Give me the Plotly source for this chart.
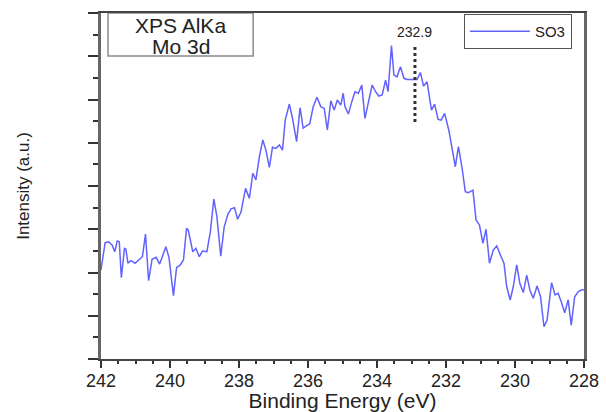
import plotly.graph_objects as go

# ---- data ----
energy_ev = [242.00, 241.88, 241.78, 241.68, 241.60, 241.53, 241.47, 241.41, 241.32, 241.28,
             241.22, 241.14, 241.08, 241.01, 240.91, 240.80, 240.71, 240.62, 240.52, 240.40,
             240.30, 240.20, 240.12, 240.03, 239.90, 239.81, 239.70, 239.61, 239.52, 239.47,
             239.34, 239.25, 239.15, 239.06, 238.93, 238.83, 238.73, 238.64, 238.53, 238.43,
             238.32, 238.23, 238.13, 238.04, 237.94, 237.81, 237.70, 237.60, 237.51, 237.41,
             237.31, 237.22, 237.12, 237.03, 236.93, 236.83, 236.74, 236.66, 236.54, 236.45,
             236.33, 236.23, 236.14, 236.04, 235.95, 235.85, 235.74, 235.63, 235.53, 235.44,
             235.34, 235.24, 235.15, 235.05, 234.98, 234.93, 234.83, 234.73, 234.64, 234.54,
             234.44, 234.35, 234.23, 234.14, 234.04, 233.95, 233.85, 233.75, 233.68, 233.58,
             233.51, 233.42, 233.32, 233.22, 233.13, 233.03, 232.93, 232.84, 232.74, 232.65,
             232.55, 232.42, 232.33, 232.23, 232.14, 232.04, 231.92, 231.83, 231.73, 231.64,
             231.54, 231.44, 231.35, 231.22, 231.13, 231.03, 230.93, 230.84, 230.74, 230.63,
             230.53, 230.41, 230.32, 230.24, 230.14, 230.05, 229.95, 229.86, 229.76, 229.66,
             229.57, 229.47, 229.36, 229.26, 229.16, 229.07, 228.94, 228.84, 228.75, 228.65,
             228.56, 228.46, 228.37, 228.27, 228.17, 228.08, 228.00]

intensity_so3 = [4.12, 5.38, 5.42, 5.27, 4.96, 5.46, 5.42, 3.76, 5.12, 5.09,
                 4.43, 4.55, 4.50, 4.43, 4.58, 4.73, 5.78, 3.62, 4.61, 4.70,
                 4.39, 4.81, 5.19, 4.70, 2.93, 4.22, 4.35, 4.58, 6.04, 5.96,
                 4.96, 5.12, 4.73, 4.99, 4.96, 5.89, 7.40, 6.58, 4.76, 6.10,
                 6.70, 6.94, 7.00, 6.46, 6.81, 7.89, 7.43, 8.59, 8.28, 9.35,
                 10.13, 9.66, 8.86, 9.79, 9.74, 9.90, 9.66, 11.05, 11.79, 11.13,
                 10.05, 11.62, 10.67, 10.79, 10.87, 11.67, 12.10, 11.67, 11.59, 10.59,
                 11.94, 11.51, 11.98, 11.74, 12.29, 11.67, 11.33, 11.90, 12.36, 12.29,
                 12.67, 11.13, 11.98, 12.67, 12.36, 12.16, 12.21, 12.90, 12.36, 14.49,
                 13.13, 13.05, 13.52, 12.98, 12.93, 12.93, 12.90, 12.93, 13.24, 12.62,
                 12.82, 11.51, 11.79, 11.08, 11.05, 11.36, 10.59, 9.82, 8.89, 9.82,
                 8.89, 7.74, 7.69, 7.81, 6.43, 6.20, 5.35, 6.00, 4.43, 5.04,
                 5.23, 4.76, 4.43, 3.34, 2.73, 3.34, 4.35, 3.50, 3.07, 3.88,
                 3.19, 2.81, 3.38, 2.88, 1.49, 1.80, 3.53, 2.96, 3.04, 2.60,
                 2.14, 2.73, 1.57, 2.88, 3.11, 3.19, 3.20]

x_ticks = [242, 240, 238, 236, 234, 232, 230, 228]
series_name = "SO3"
peak_position = 232.9
peak_marker_span = [10.96, 14.43]
peak_label_y = 15.1
box_lines = ["XPS AlKa", "Mo 3d"]

FONT = "Liberation Sans, Arial, sans-serif"

fig = go.Figure()
fig.add_trace(go.Scatter(
    x=energy_ev, y=intensity_so3, mode="lines", name=series_name,
    line=dict(color="#6262ff", width=1.5),
))

# dotted peak marker
fig.add_shape(type="line", xref="x", yref="y",
              x0=peak_position, x1=peak_position,
              y0=peak_marker_span[0], y1=peak_marker_span[1],
              line=dict(color="#333333", width=3, dash="dot"))
fig.add_annotation(x=peak_position, y=peak_label_y, xref="x", yref="y",
                   text=f"{peak_position}", showarrow=False, xanchor="center",
                   font=dict(family=FONT, size=14, color="#222222"))

# label box
fig.add_shape(type="rect", xref="paper", yref="paper",
              x0=0.0145, x1=0.315, y0=0.876, y1=1.0,
              line=dict(color="#8a8a8a", width=1.5), fillcolor="white", layer="below")
fig.add_annotation(x=0.165, y=0.965, xref="paper", yref="paper", text=box_lines[0],
                   showarrow=False, xanchor="center", yanchor="middle",
                   font=dict(family=FONT, size=21, color="#222222"))
fig.add_annotation(x=0.165, y=0.903, xref="paper", yref="paper", text=box_lines[1],
                   showarrow=False, xanchor="center", yanchor="middle",
                   font=dict(family=FONT, size=21, color="#222222"))

fig.update_layout(
    width=606, height=412,
    margin=dict(l=101, r=22, t=13, b=53),
    paper_bgcolor="white", plot_bgcolor="white",
    showlegend=True,
    legend=dict(x=0.975, xanchor="right", y=0.997, yanchor="top",
                bgcolor="white", bordercolor="#555555", borderwidth=1,
                font=dict(family=FONT, size=15, color="#222222"),
                itemwidth=60, tracegroupgap=0),
    xaxis=dict(
        range=[242, 228], tickmode="array", tickvals=x_ticks,
        ticktext=[str(v) for v in x_ticks], automargin=False,
        ticks="outside", ticklen=7, tickwidth=2, tickcolor="#333333",
        ticklabelstandoff=-3,
        minor=dict(dtick=0.5, ticks="outside", ticklen=3, tickwidth=2, tickcolor="#333333"),
        showline=True, linecolor="#444444", linewidth=2, mirror=True,
        showgrid=False, zeroline=False,
        tickfont=dict(family=FONT, size=18, color="#222222"),
        title=dict(text="Binding Energy (eV)", standoff=6,
                   font=dict(family=FONT, size=21, color="#222222")),
    ),
    yaxis=dict(
        range=[0, 16], dtick=2, tick0=0, showticklabels=False, automargin=False,
        ticks="outside", ticklen=10, tickwidth=1.5, tickcolor="#333333",
        minor=dict(dtick=1, ticks="outside", ticklen=5, tickwidth=1.5, tickcolor="#333333"),
        showline=True, linecolor="#666666", linewidth=2.5, mirror=True,
        showgrid=False, zeroline=False,
        title=dict(text="Intensity (a.u.)", standoff=55,
                   font=dict(family=FONT, size=17, color="#222222")),
    ),
)

fig.write_html(
    "out.html",
    config={"displayModeBar": False},
    post_script="document.body.style.margin='0';document.body.style.overflow='hidden';",
)
